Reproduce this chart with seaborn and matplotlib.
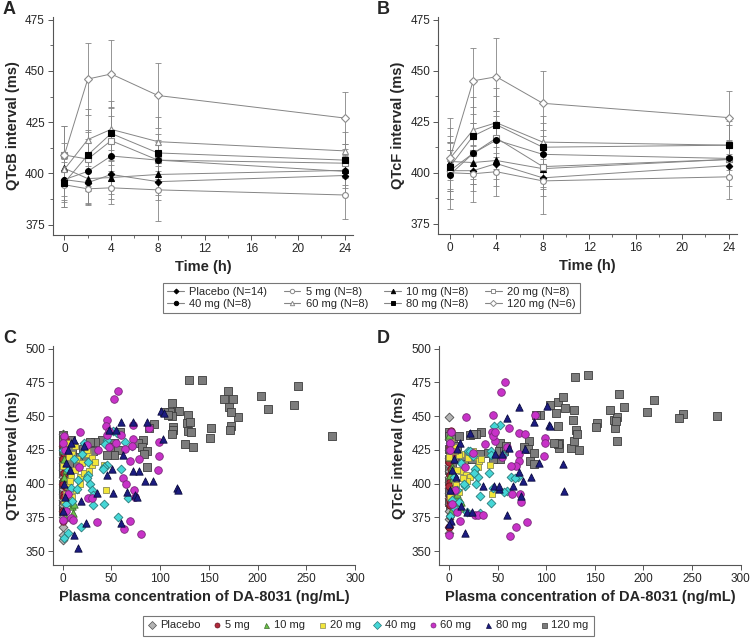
import numpy as np
import pandas as pd
import matplotlib
matplotlib.use("Agg")
import matplotlib.pyplot as plt
from matplotlib.ticker import MultipleLocator
from matplotlib.lines import Line2D
import seaborn as sns

sns.set_style("ticks")
plt.rcParams['font.family'] = ['Liberation Sans', 'DejaVu Sans']

# ---------------- Panels A/B data ----------------
times = [0, 2, 4, 8, 24]
groups_ts = ["Placebo (N=14)", "5 mg (N=8)", "10 mg (N=8)", "20 mg (N=8)",
             "40 mg (N=8)", "60 mg (N=8)", "80 mg (N=8)", "120 mg (N=6)"]

qtcb_mean_pbo = [397, 395.5, 399.5, 396, 399]
qtcb_mean_5 = [394.5, 392.5, 393, 392, 389.5]
qtcb_mean_10 = [402.5, 397.5, 398, 399.5, 401.5]
qtcb_mean_20 = [409, 407, 416, 406.5, 405]
qtcb_mean_40 = [397, 401, 408.5, 406.5, 401]
qtcb_mean_60 = [402, 416.5, 421.5, 415.5, 411]
qtcb_mean_80 = [395.5, 409, 419.5, 410, 406.5]
qtcb_mean_120 = [409, 446, 448.5, 438, 427]

qtcb_sd_pbo = [11, 10, 12, 9, 9]
qtcb_sd_5 = [11, 8, 8, 15, 11.5]
qtcb_sd_10 = [8, 6, 8, 10, 7]
qtcb_sd_20 = [14, 13, 12, 10, 7]
qtcb_sd_40 = [10, 16, 12, 9, 8]
qtcb_sd_60 = [13, 15, 14, 12, 9]
qtcb_sd_80 = [12, 12, 13, 9, 8]
qtcb_sd_120 = [14, 17.5, 16.5, 16, 12.5]

qtcf_mean_pbo = [401, 401, 404.5, 397.5, 403.5]
qtcf_mean_5 = [400, 399.5, 400.5, 396, 398]
qtcf_mean_10 = [405.5, 405, 406, 402, 406.5]
qtcf_mean_20 = [401, 409.5, 417, 403, 406.5]
qtcf_mean_40 = [399, 409.5, 416, 409, 407]
qtcf_mean_60 = [407, 421, 424.5, 415, 413.5]
qtcf_mean_80 = [403, 418, 423.5, 412.5, 413.5]
qtcf_mean_120 = [407, 445, 447, 434, 427]

qtcf_sd_pbo = [10, 10, 11, 9, 10]
qtcf_sd_5 = [18, 14, 12, 16, 11]
qtcf_sd_10 = [9, 8, 9, 10, 8]
qtcf_sd_20 = [14, 15, 13, 10, 9]
qtcf_sd_40 = [12, 15, 14, 12, 9]
qtcf_sd_60 = [15, 16, 17, 13, 12]
qtcf_sd_80 = [12, 14, 14, 12, 10]
qtcf_sd_120 = [20, 16, 19, 16, 13]

# ---------------- Panels C/D data ----------------
scatter_groups = ["Placebo", "5 mg", "10 mg", "20 mg", "40 mg", "60 mg", "80 mg", "120 mg"]

conc_pbo = [0, 0, 0, 0, 0, 0, 0, 0, 0, 0, 0, 0, 0, 0, 0, 0]
qtcb_pbo = [358, 362, 368, 375, 380, 384, 388, 392, 396, 400, 405, 410, 415, 420, 428, 437]
qtcf_pbo = [363, 368, 374, 380, 385, 389, 393, 397, 401, 405, 409, 414, 419, 425, 433, 449]

conc_5 = [0, 0.5, 1.0, 1.5, 2.0, 0.8, 1.2, 2.5, 0.3, 1.8, 0.6, 2.2, 1.0, 0.4]
qtcb_5 = [372, 380, 386, 392, 398, 403, 408, 412, 418, 423, 428, 433, 390, 400]
qtcf_5 = [368, 376, 384, 390, 396, 401, 406, 411, 416, 421, 427, 439, 388, 398]

conc_10 = [0, 0.5, 1.5, 3, 4.5, 6, 7.5, 9, 11, 12, 2, 5, 8, 0.8]
qtcb_10 = [437, 425, 418, 410, 400, 392, 386, 383, 378, 385, 375, 395, 390, 405]
qtcf_10 = [436, 428, 420, 412, 404, 396, 390, 386, 382, 386, 380, 398, 392, 406]

conc_20 = [4.8, 12.6, 26.3, 30.4, 29.7, 12.6, 17.8, 8.5, 5.8, 44.5, 0.0, 24.6, 15.0, 10.0,
           20.0, 22.0, 7.0, 3.0, 1.0, 33.0, 27.0, 18.0, 10.0, 14.0, 6.0, 2.0, 42.0]
qtcb_20 = [430, 428, 422, 419, 414, 410, 405, 405, 398, 395, 413, 425, 418, 422,
           415, 408, 402, 392, 386, 416, 409, 400, 390, 395, 420, 425, 414]
qtcf_20 = [427, 422, 420, 417, 412, 409, 406, 410, 402, 392, 420, 424, 414, 421,
           419, 405, 399, 395, 390, 418, 408, 402, 394, 404, 424, 431, 414]

conc_40 = [52, 56, 64, 70.8, 45.8, 43.4, 45.2, 42.7, 41.1, 59.9, 26.3, 24.6, 27.7, 16, 29.8,
           31.4, 31.4, 42.7, 67.4, 56.5, 18.8, 5.8, 1.0, 8, 5, 12, 20, 3, 10, 15, 0.5, 22, 26]
qtcb_40 = [439, 437.5, 431, 427.5, 432, 429.5, 413.5, 412, 410.5, 410.5, 406, 404, 400, 403, 395,
           391.5, 384, 384.5, 389, 375.5, 368, 363, 360, 397, 410, 418, 422, 385, 387, 396, 425, 430, 416]
qtcf_40 = [443.5, 421.5, 405, 404.5, 442.5, 424, 397, 421.5, 408, 394.5, 410.5, 420.5, 399.5, 398, 404.5,
           390.5, 378, 385.5, 404, 394, 379, 381, 376, 395, 405, 415, 424, 388, 386, 400, 430, 424, 408]

conc_60 = [57.1, 53, 45.2, 44.5, 17.4, 47.5, 45.2, 71.9, 71.9, 71.5, 88.9, 99.2, 98.9, 98.2,
           36.6, 69.4, 62.2, 65, 73.5, 74, 26.3, 29.8, 8.5, 10.9, 34.9, 69.1, 62.9, 80.1,
           2.4, 0, 5.7, 24.6, 64, 1, 0.5, 3, 47, 60, 55, 16.5, 78]
qtcb_60 = [468.4, 463, 447.4, 442.5, 438.3, 438.8, 435.8, 443.2, 433.4, 427.7, 441.5, 430.9, 420.3, 410.4,
           425.2, 416.6, 403.8, 399.6, 395.1, 390, 389, 389.2, 374.6, 372.9, 371.2, 372.2, 366, 362.5,
           424.7, 373, 392.2, 428.4, 425.5, 435, 430, 380, 427, 436, 430, 412, 418]
qtcf_60 = [475, 468, 451, 438, 449, 431.5, 435, 437.6, 421.7, 416.8, 451, 434, 430.3, 420.5,
           429, 412.7, 441.3, 392.3, 392.3, 386, 377, 377, 379, 372, 377, 368, 361, 371.6,
           438, 362, 395, 423, 412.7, 430, 425, 385, 438, 427, 420, 412, 436.4]

conc_80 = [59.5, 71.9, 86.9, 47.8, 11.6, 103.3, 101, 104, 62.2, 50.9, 71.9, 78.3, 93, 84,
           45.8, 117, 118, 51.3, 65.7, 74.2, 76, 18.5, 23.6, 59.9, 16, 22, 12, 3, 1, 2,
           0, 5, 8, 35, 55, 7]
qtcb_80 = [446, 446, 446, 439.5, 432, 433.4, 454, 452, 421, 411, 409.4, 409.4, 401.8, 402,
           406.7, 396.4, 395, 393, 394, 391.4, 390, 387, 371, 371, 352, 428, 362, 415, 400, 390,
           380, 425, 430, 393, 440, 410]
qtcf_80 = [448.6, 457, 446, 422, 430, 443.7, 457.7, 442.5, 426.6, 396, 408.3, 425.4, 415.6, 404.6,
           398.5, 414.4, 394.8, 398.5, 398.5, 391, 402, 379, 378.9, 376.4, 363.5, 437.6, 383, 410, 395, 372,
           370, 418, 426, 398.5, 422, 405]

conc_120 = [276, 241, 237, 211, 204, 180, 175, 170, 171, 173, 172.5, 171.8, 166, 152.5, 151,
            143, 130, 134, 125.6, 128.3, 127.3, 130.7, 128.3, 131.4, 112.5, 117, 119.4, 110.2,
            111.9, 113, 113.6, 112.5, 104, 108,
            94, 89, 82.7, 77.6, 81.7, 87, 83.8, 87, 52.6, 51.6, 56.8, 52.6, 59, 40, 33.2, 28,
            21.2, 24.6, 31.4, 17.8, 16.8, 14.4, 23.6, 45,
            0, 0, 0.5, 0, 1, 0, 0.5, 0, 1.5, 0, 0.5, 0, 1, 0, 0.5, 2, 3, 4, 5, 8, 10, 6]
qtcb_120 = [435, 472, 458, 455, 465, 449, 463, 469, 457, 453, 443, 440, 463, 441, 434,
            477, 477, 427, 429, 451, 445, 446, 439, 438, 460, 454, 454, 453,
            450, 442, 439.5, 437, 453, 451,
            444, 441.5, 432, 430, 427, 424, 422, 412, 430, 427, 425, 421, 438, 432, 431, 431,
            426, 424, 424, 420, 416, 413, 419, 421,
            436, 432, 428, 424, 420, 416, 412, 408, 404, 400, 396, 392, 388, 384, 380, 410, 420, 425, 430, 432, 426, 415]
qtcf_120 = [450, 451.5, 448.5, 462, 453, 457, 466.5, 447, 441, 449, 431.5, 446.7, 454.5, 445, 442,
            480.5, 479, 425, 426.6, 454.8, 447.4, 440, 431.5, 437, 460.4, 464.5, 456, 452.3,
            442.5, 430.3, 426.6, 429.5, 458.4, 430,
            451, 451, 431.5, 427.3, 425.4, 422.9, 416.8, 414.4, 430.3, 424.2, 424, 418, 428, 422.9, 438, 436.9,
            435.9, 436.4, 421.7, 418, 418, 420.5, 418, 418,
            438, 435, 430, 426, 423, 418, 414, 410, 406, 402, 398, 394, 390, 386, 382, 416, 412, 433, 420, 428, 435, 400]

# ---------------- Figure ----------------
W, H = 751, 639
fig = plt.figure(figsize=(W / 100, H / 100), dpi=100)


def px_axes(left, top, right, bottom):
    return fig.add_axes([left / W, 1 - bottom / H, (right - left) / W, (bottom - top) / H])


ts_styles = [
    dict(marker="D", mfc="black", mec="black", ms=3.3),
    dict(marker="o", mfc="white", mec="#8a8a8a", ms=4.2),
    dict(marker="^", mfc="black", mec="black", ms=4.2),
    dict(marker="s", mfc="white", mec="#8a8a8a", ms=4.0),
    dict(marker="o", mfc="black", mec="black", ms=4.2),
    dict(marker="^", mfc="white", mec="#8a8a8a", ms=4.2),
    dict(marker="s", mfc="black", mec="black", ms=4.0),
    dict(marker="D", mfc="white", mec="#8a8a8a", ms=4.2),
]
line_col = "#858585"

qtcb_means = [qtcb_mean_pbo, qtcb_mean_5, qtcb_mean_10, qtcb_mean_20, qtcb_mean_40, qtcb_mean_60, qtcb_mean_80, qtcb_mean_120]
qtcb_sds = [qtcb_sd_pbo, qtcb_sd_5, qtcb_sd_10, qtcb_sd_20, qtcb_sd_40, qtcb_sd_60, qtcb_sd_80, qtcb_sd_120]
qtcf_means = [qtcf_mean_pbo, qtcf_mean_5, qtcf_mean_10, qtcf_mean_20, qtcf_mean_40, qtcf_mean_60, qtcf_mean_80, qtcf_mean_120]
qtcf_sds = [qtcf_sd_pbo, qtcf_sd_5, qtcf_sd_10, qtcf_sd_20, qtcf_sd_40, qtcf_sd_60, qtcf_sd_80, qtcf_sd_120]


def style_axes(ax):
    sns.despine(ax=ax)
    for s in ["left", "bottom"]:
        ax.spines[s].set_color("#555555")
        ax.spines[s].set_linewidth(0.8)
    ax.tick_params(axis="both", which="major", labelsize=8.5, length=3.5, width=0.7,
                   color="#555555", pad=2)
    ax.tick_params(axis="both", which="minor", length=2, width=0.6, color="#555555")


def draw_ts(ax, means, sds, ylabel):
    for g, m, s, st in zip(groups_ts, means, sds, ts_styles):
        df = pd.DataFrame({"time": times, "val": m})
        ax.errorbar(times, m, yerr=s, fmt="none", ecolor=line_col, elinewidth=0.6,
                    capsize=2, capthick=0.6, zorder=1)
        sns.lineplot(data=df, x="time", y="val", ax=ax, color=line_col, lw=0.7,
                     marker=st["marker"], markerfacecolor=st["mfc"], markeredgecolor=st["mec"],
                     markersize=st["ms"], markeredgewidth=0.8, errorbar=None, label=g,
                     legend=False, zorder=3)
    ax.set_xlim(-1.0, 24.7)
    ax.set_ylim(370, 476.5)
    ax.set_xticks([0, 4, 8, 12, 16, 20, 24])
    ax.set_yticks([375, 400, 425, 450, 475])
    ax.xaxis.set_minor_locator(MultipleLocator(2))
    ax.yaxis.set_minor_locator(MultipleLocator(12.5))
    ax.set_xlabel("Time (h)", fontsize=10.5, fontweight="bold", labelpad=4)
    ax.set_ylabel(ylabel, fontsize=10.5, fontweight="bold", labelpad=4)
    style_axes(ax)


axA = px_axes(52.7, 16.5, 353, 235)
draw_ts(axA, qtcb_means, qtcb_sds, "QTcB interval (ms)")
axB = px_axes(438.3, 16.5, 736.7, 234)
draw_ts(axB, qtcf_means, qtcf_sds, "QTcF interval (ms)")

fig.text(3 / W, 1 - 14 / H, "A", fontsize=13, fontweight="bold", va="baseline")
fig.text(377 / W, 1 - 14 / H, "B", fontsize=13, fontweight="bold", va="baseline")
fig.text(3 / W, 1 - 343 / H, "C", fontsize=13, fontweight="bold", va="baseline")
fig.text(377 / W, 1 - 343 / H, "D", fontsize=13, fontweight="bold", va="baseline")

# legend 1
handles = []
for g, st in zip(groups_ts, ts_styles):
    handles.append(Line2D([0], [0], color=line_col, lw=0.8, marker=st["marker"],
                          markerfacecolor=st["mfc"], markeredgecolor=st["mec"],
                          markersize=st["ms"] * 0.75, markeredgewidth=0.7, label=g))
order = [0, 4, 1, 5, 2, 6, 3, 7]
leg1 = fig.legend([handles[i] for i in order], [groups_ts[i] for i in order],
                  ncol=4, loc="center", bbox_to_anchor=(371.5 / W, 1 - 298 / H),
                  fontsize=8, frameon=True, fancybox=False, handlelength=1.5,
                  handletextpad=0.5, columnspacing=1.45, labelspacing=0.2,
                  borderpad=0.35, edgecolor="#555555")
leg1.get_frame().set_linewidth(0.8)

# scatter panels
sc_colors = ["#b4b4b4", "#b02a3a", "#6cc24a", "#f2e63a", "#45d6d6", "#c832c8", "#1c1c82", "#7c7c7c"]
sc_edges = ["#505050", "#6a1020", "#3a6a2a", "#8a8a5a", "#2a7a7a", "#7a2a7a", "#0c0c40", "#3c3c3c"]
sc_markers = ["D", "o", "^", "s", "D", "o", "^", "s"]
sc_sizes = [20, 28, 28, 24, 20, 30, 28, 26]
concs = [conc_pbo, conc_5, conc_10, conc_20, conc_40, conc_60, conc_80, conc_120]
qtcbs = [qtcb_pbo, qtcb_5, qtcb_10, qtcb_20, qtcb_40, qtcb_60, qtcb_80, qtcb_120]
qtcfs = [qtcf_pbo, qtcf_5, qtcf_10, qtcf_20, qtcf_40, qtcf_60, qtcf_80, qtcf_120]
draw_order = [7, 0, 1, 2, 3, 4, 5, 6]


def draw_sc(ax, vals, ylabel):
    for z, i in enumerate(draw_order):
        df = pd.DataFrame({"conc": concs[i], "qtc": vals[i]})
        sns.scatterplot(data=df, x="conc", y="qtc", ax=ax, marker=sc_markers[i],
                        color=sc_colors[i], edgecolor=sc_edges[i], linewidth=0.6,
                        s=sc_sizes[i], legend=False, zorder=2 + z)
    ax.set_xlim(-10, 300)
    ax.set_ylim(339.4, 502)
    ax.set_xticks([0, 50, 100, 150, 200, 250, 300])
    ax.set_yticks([350, 375, 400, 425, 450, 475, 500])
    ax.set_xlabel("Plasma concentration of DA-8031 (ng/mL)", fontsize=10.5,
                  fontweight="bold", labelpad=4)
    ax.set_ylabel(ylabel, fontsize=10.5, fontweight="bold", labelpad=4)
    style_axes(ax)


axC = px_axes(53, 346, 355, 565.3)
draw_sc(axC, qtcbs, "QTcB interval (ms)")
axD = px_axes(439.3, 346, 740.7, 565.3)
draw_sc(axD, qtcfs, "QTcF interval (ms)")

sc_handles = []
for i, g in enumerate(scatter_groups):
    sc_handles.append(Line2D([0], [0], lw=0, marker=sc_markers[i], markerfacecolor=sc_colors[i],
                             markeredgecolor=sc_edges[i], markersize=3.6, markeredgewidth=0.5, label=g))
leg2 = fig.legend(sc_handles, scatter_groups, ncol=8, loc="center",
                  bbox_to_anchor=(368.5 / W, 1 - 625.5 / H), fontsize=8, frameon=True,
                  fancybox=False, handlelength=0.7, handletextpad=0.35, columnspacing=1.15,
                  borderpad=0.45, edgecolor="#555555")
leg2.get_frame().set_linewidth(0.8)

fig.savefig("out.png", dpi=100)
